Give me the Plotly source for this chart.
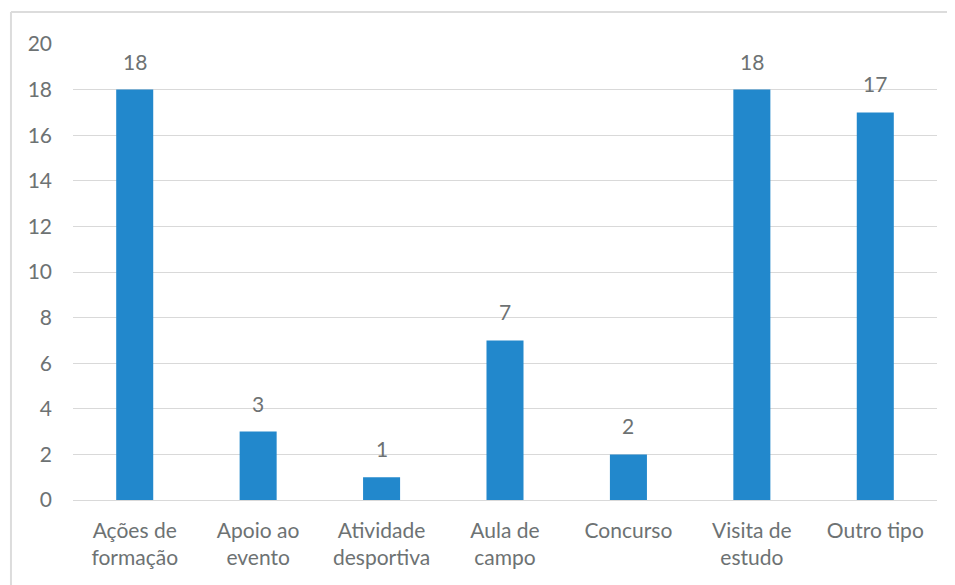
import plotly.graph_objects as go

categories = ["Ações de<br>formação", "Apoio ao<br>evento", "Atividade<br>desportiva",
              "Aula de<br>campo", "Concurso", "Visita de<br>estudo", "Outro tipo"]
values = [18, 3, 1, 7, 2, 18, 17]
y_ticks = [0, 2, 4, 6, 8, 10, 12, 14, 16, 18, 20]

text_color = "#6d7273"
font_family = "Lato, 'Open Sans', sans-serif"

fig = go.Figure(go.Bar(
    x=categories, y=values,
    marker=dict(color="#2288cc", line=dict(width=0)),
))

for c, v in zip(categories, values):
    fig.add_annotation(x=c, y=v, text=str(v), showarrow=False, yanchor="bottom",
                       yshift=14, font=dict(size=21, color=text_color, family=font_family))

border = dict(color="#dcdcdc", width=2)
fig.update_layout(
    width=955, height=585,
    margin=dict(l=65, r=26, t=36, b=93),
    paper_bgcolor="white", plot_bgcolor="white",
    bargap=0.7,
    showlegend=False,
    font=dict(family=font_family, size=21, color=text_color),
    xaxis=dict(showgrid=False, showline=False, ticks="", tickfont=dict(size=21, color=text_color),
               ticklabelstandoff=16, automargin=False),
    yaxis=dict(range=[0, 20], tickvals=y_ticks, showgrid=True, gridcolor="#d9d9d9", gridwidth=1,
               zeroline=True, zerolinecolor="#d9d9d9", zerolinewidth=1, showline=False, ticks="",
               tickfont=dict(size=21, color=text_color), ticklabelstandoff=20, automargin=False),
    shapes=[
        dict(type="line", xref="paper", yref="paper", x0=-0.0718, x1=1.03, y0=1.0702, y1=1.0702,
             line=border, layer="below"),
        dict(type="line", xref="paper", yref="paper", x0=-0.0718, x1=-0.0718, y0=-0.21, y1=1.0702,
             line=border, layer="below"),
    ],
)

fig.write_html("out.html")
